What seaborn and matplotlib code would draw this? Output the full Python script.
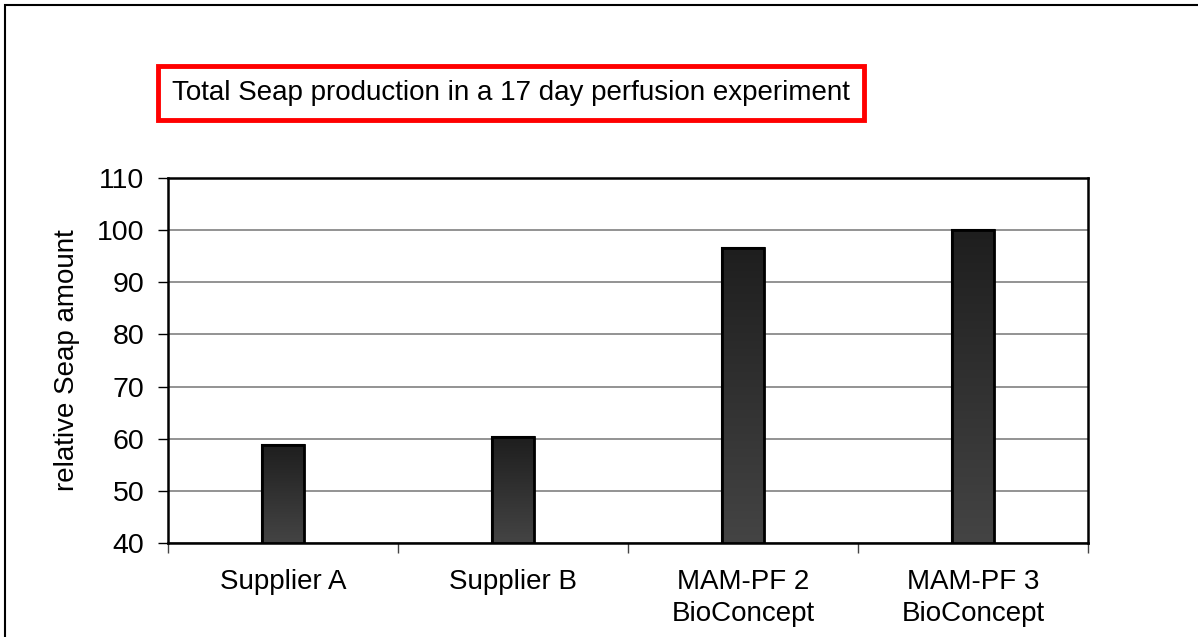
import matplotlib
matplotlib.use('Agg')
import matplotlib.pyplot as plt
import numpy as np
import pandas as pd
import seaborn as sns
from matplotlib.patches import Rectangle

categories = ['Supplier A', 'Supplier B', 'MAM-PF 2\nBioConcept', 'MAM-PF 3\nBioConcept']
values = [58.8, 60.3, 96.6, 100.0]
yticks = [40, 50, 60, 70, 80, 90, 100, 110]

df = pd.DataFrame({'medium': categories, 'seap': values})

sns.set_style('white')
plt.rcParams['font.family'] = ['Liberation Sans', 'DejaVu Sans']
plt.rcParams['text.color'] = 'black'
plt.rcParams['xtick.color'] = 'black'
plt.rcParams['ytick.color'] = 'black'
plt.rcParams['axes.labelcolor'] = 'black'

fig = plt.figure(figsize=(11.98, 6.37), dpi=100)
# plot area in pixels: x 168..1088, y 178..543
ax = fig.add_axes([168 / 1198, 1 - 543 / 637, 920 / 1198, 365 / 637])

sns.barplot(data=df, x='medium', y='seap', color='#2a2a2a', width=0.18,
            edgecolor='black', linewidth=1.5, ax=ax, zorder=3)

# vertical gradient inside the bars (dark top, lighter bottom)
grad = np.linspace(0, 1, 256).reshape(-1, 1)
cmap = matplotlib.colors.LinearSegmentedColormap.from_list('g', ['#1e1e1e', '#444444'])
for bar in list(ax.patches):
    x0, y0 = bar.get_x(), bar.get_y()
    w, h = bar.get_width(), bar.get_height()
    im = ax.imshow(grad, extent=[x0, x0 + w, 40, y0 + h], cmap=cmap,
                   aspect='auto', origin='upper', zorder=3.5)
    im.set_clip_path(bar)
    ax.add_patch(Rectangle((x0, 40), w, y0 + h - 40, fill=False,
                           edgecolor='black', linewidth=2, zorder=4))

ax.set_xlim(-0.5, len(categories) - 0.5)
ax.set_ylim(40, 110)
ax.set_yticks(yticks)
ax.set_yticklabels([str(t) for t in yticks], fontsize=20.5)
ax.yaxis.grid(True, color='#808080', linewidth=1.2, zorder=0)
ax.set_axisbelow(True)

ax.set_xticks(range(len(categories)))
ax.set_xticklabels(categories, fontsize=20, linespacing=1.3)
ax.tick_params(axis='x', length=0, pad=19)
ax.tick_params(axis='y', length=7, width=1, left=True, pad=10)
# category boundary ticks
ax.set_xticks(np.arange(-0.5, len(categories), 1.0), minor=True)
ax.tick_params(axis='x', which='minor', length=7, width=1, color='#444444', bottom=True)

for s in ax.spines.values():
    s.set_color('black')
    s.set_linewidth(1.8)

ax.set_xlabel('')
ax.set_ylabel('relative Seap amount', fontsize=20, labelpad=12)

fig.text(172 / 1198, 1 - 93 / 637, 'Total Seap production in a 17 day perfusion experiment',
         fontsize=20, va='center', ha='left',
         bbox=dict(boxstyle='square,pad=0.52', facecolor='white', edgecolor='#ff0000', linewidth=3.5))

# outer chart border
fig.patches.append(Rectangle((5 / 1198, -0.1), 1.2, 1 - 5 / 637 + 0.1, transform=fig.transFigure,
                             fill=False, edgecolor='black', linewidth=1.5))

fig.savefig('out.png', dpi=100)
